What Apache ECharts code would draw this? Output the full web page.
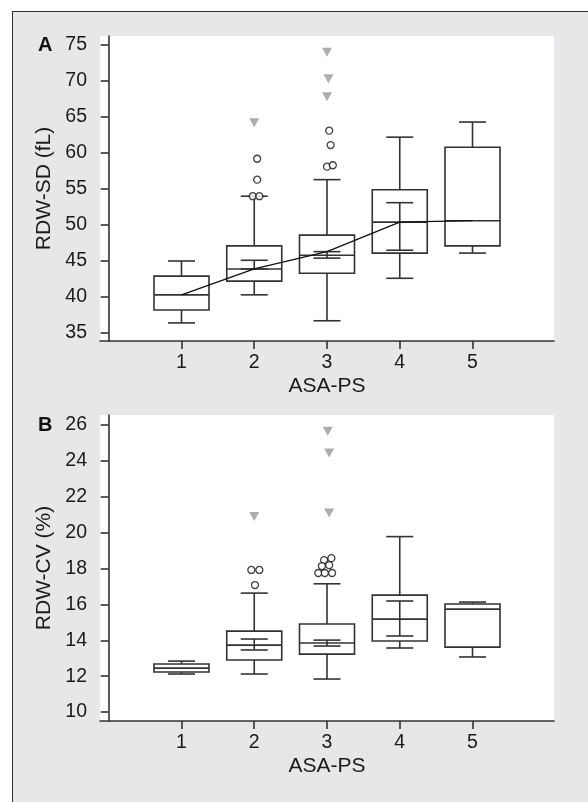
<!DOCTYPE html>
<html>
<head>
<meta charset="utf-8">
<script src="https://cdn.jsdelivr.net/npm/echarts@6/dist/echarts.min.js"></script>
<style>
  html, body { margin: 0; padding: 0; background: #fff; }
  #frame { position: absolute; left: 12px; top: 11px; width: 600px; height: 820px;
           background: #e6e7e8; border-top: 1.5px solid #333; border-left: 1.5px solid #333; box-sizing: border-box; }
  #chart { position: absolute; left: 0; top: 0; width: 588px; height: 802px; }
</style>
</head>
<body>
<div id="frame"></div>
<div id="chart"></div>
<script>
// ---- Data ----
const groups = [1, 2, 3, 4, 5];
const xTicks = [1, 2, 3, 4, 5];
const sdTicks = [35, 40, 45, 50, 55, 60, 65, 70, 75];
const cvTicks = [10, 12, 14, 16, 18, 20, 22, 24, 26];

// Panel A: RDW-SD (fL)
const sdLow    = [36.4, 40.3, 36.7, 42.6, 46.1];
const sdQ1     = [38.2, 42.2, 43.3, 46.1, 47.1];
const sdMedian = [40.3, 43.9, 45.8, 50.4, 50.6];
const sdQ3     = [42.9, 47.1, 48.6, 54.9, 60.8];
const sdHigh   = [45.0, 54.0, 56.3, 62.2, 64.3];
const sdCiLow  = [null, 43.9, 45.4, 46.5, null];
const sdCiHigh = [null, 45.1, 46.3, 53.1, null];
const sdTrend  = [40.3, 43.9, 46.3, 50.4, 50.6];
const sdCircles = [[2.04, 59.2], [2.04, 56.3], [1.98, 54.0], [2.07, 54.0],
                   [3.03, 63.1], [3.05, 61.1], [3.00, 58.1], [3.08, 58.3]];
const sdTriangles = [[2.0, 64.2], [3.0, 74.0], [3.02, 70.3], [3.0, 67.8]];

// Panel B: RDW-CV (%)
const cvLow    = [12.12, 12.12, 11.84, 13.57, 13.07];
const cvQ1     = [12.23, 12.90, 13.23, 13.96, 13.62];
const cvMedian = [12.45, 13.73, 13.85, 15.18, 15.74];
const cvQ3     = [12.68, 14.51, 14.91, 16.52, 16.02];
const cvHigh   = [12.84, 16.63, 17.15, 19.78, 16.13];
const cvCiLow  = [null, 13.46, 13.68, 14.24, null];
const cvCiHigh = [null, 14.07, 14.01, 16.19, null];
const cvCircles = [[2.01, 17.08], [1.96, 17.92], [2.07, 17.92],
                   [2.96, 18.47], [3.06, 18.58], [2.93, 18.14], [3.03, 18.19],
                   [2.88, 17.75], [2.97, 17.75], [3.07, 17.75]];
const cvTriangles = [[2.0, 20.9], [3.01, 25.66], [3.03, 24.44], [3.03, 21.09]];

// ---- Build rows ----
function rows(low, q1, med, q3, high, ciL, ciH) {
  return groups.map((g, i) => [g, low[i], q1[i], med[i], q3[i], high[i],
    ciL[i] == null ? '-' : ciL[i], ciH[i] == null ? '-' : ciH[i]]);
}
const sdRows = rows(sdLow, sdQ1, sdMedian, sdQ3, sdHigh, sdCiLow, sdCiHigh);
const cvRows = rows(cvLow, cvQ1, cvMedian, cvQ3, cvHigh, cvCiLow, cvCiHigh);

const INK = '#333';
const LW = 1.6;
const BOX_HALF = 27.5;
const CAP_HALF = 13.5;

function renderBox(params, api) {
  const x = api.value(0);
  const v = [1, 2, 3, 4, 5, 6, 7].map(i => api.value(i));
  const P = val => api.coord([x, val]);
  const pLow = P(v[0]), pQ1 = P(v[1]), pMed = P(v[2]), pQ3 = P(v[3]), pHigh = P(v[4]);
  const cx = pMed[0];
  const st = { stroke: INK, lineWidth: LW, fill: null };
  const line = (x1, y1, x2, y2) => ({ type: 'line', shape: { x1, y1, x2, y2 }, style: st });
  const ch = [
    line(cx, pLow[1], cx, pQ1[1]),
    line(cx, pQ3[1], cx, pHigh[1]),
    line(cx - CAP_HALF, pLow[1], cx + CAP_HALF, pLow[1]),
    line(cx - CAP_HALF, pHigh[1], cx + CAP_HALF, pHigh[1]),
    { type: 'rect', shape: { x: cx - BOX_HALF, y: pQ3[1], width: 2 * BOX_HALF, height: pQ1[1] - pQ3[1] },
      style: { stroke: INK, lineWidth: LW, fill: 'rgba(0,0,0,0)' } },
    line(cx - BOX_HALF, pMed[1], cx + BOX_HALF, pMed[1])
  ];
  if (!isNaN(v[5]) && !isNaN(v[6])) {
    const a = P(v[5]), b = P(v[6]);
    ch.push(line(cx, a[1], cx, b[1]));
    ch.push(line(cx - CAP_HALF, a[1], cx + CAP_HALF, a[1]));
    ch.push(line(cx - CAP_HALF, b[1], cx + CAP_HALF, b[1]));
  }
  return { type: 'group', children: ch };
}

const FONT = 'Liberation Sans, Arial, Helvetica, sans-serif';
const labelStyle = { color: '#1a1a1a', fontSize: 19.5, fontFamily: FONT };
const nameStyle = { color: '#1a1a1a', fontSize: 21, fontFamily: FONT };

function xAxis(gi) {
  return {
    type: 'value', gridIndex: gi, min: -0.12, max: 6.12,
    name: 'ASA-PS', nameLocation: 'middle', nameGap: 35, nameTextStyle: nameStyle,
    axisLine: { show: true, lineStyle: { color: INK, width: LW } },
    axisTick: { show: true, length: 8, customValues: xTicks, lineStyle: { color: INK, width: LW } },
    axisLabel: { show: true, margin: 12, customValues: xTicks, ...labelStyle },
    splitLine: { show: false }
  };
}
function yAxis(gi, min, max, ticks, name) {
  return {
    type: 'value', gridIndex: gi, min, max,
    name, nameLocation: 'middle', nameGap: 45, nameTextStyle: nameStyle,
    axisLine: { show: true, lineStyle: { color: INK, width: LW } },
    axisTick: { show: true, length: 8, customValues: ticks, lineStyle: { color: INK, width: LW } },
    axisLabel: { show: true, margin: 13, customValues: ticks, ...labelStyle },
    splitLine: { show: false }
  };
}

const circleStyle = { color: '#fff', borderColor: '#111', borderWidth: 1.3 };
const triStyle = { color: '#999' };

const option = {
  backgroundColor: 'transparent',
  animation: false,
  grid: [
    { left: 100, top: 36, width: 454, height: 305, show: true, backgroundColor: '#fff', borderWidth: 0 },
    { left: 100, top: 415, width: 454, height: 306, show: true, backgroundColor: '#fff', borderWidth: 0 }
  ],
  xAxis: [xAxis(0), xAxis(1)],
  yAxis: [
    yAxis(0, 33.89, 76.25, sdTicks, 'RDW-SD (fL)'),
    yAxis(1, 9.5, 26.56, cvTicks, 'RDW-CV (%)')
  ],
  graphic: [
    { type: 'text', left: 38, top: 35, style: { text: 'A', font: 'bold 20px ' + FONT, fill: '#111' } },
    { type: 'text', left: 38, top: 415, style: { text: 'B', font: 'bold 20px ' + FONT, fill: '#111' } }
  ],
  series: [
    { type: 'custom', xAxisIndex: 0, yAxisIndex: 0, renderItem: renderBox, data: sdRows,
      encode: { x: 0, y: [1, 2, 3, 4, 5] }, z: 2 },
    { type: 'line', xAxisIndex: 0, yAxisIndex: 0, data: groups.map((g, i) => [g, sdTrend[i]]),
      symbol: 'none', lineStyle: { color: '#111', width: 1.3 }, z: 3 },
    { type: 'scatter', xAxisIndex: 0, yAxisIndex: 0, data: sdCircles, symbol: 'circle', symbolSize: 7,
      itemStyle: circleStyle, z: 4 },
    { type: 'scatter', xAxisIndex: 0, yAxisIndex: 0, data: sdTriangles, symbol: 'triangle', symbolRotate: 180,
      symbolSize: [10, 9], itemStyle: triStyle, z: 4 },
    { type: 'custom', xAxisIndex: 1, yAxisIndex: 1, renderItem: renderBox, data: cvRows,
      encode: { x: 0, y: [1, 2, 3, 4, 5] }, z: 2 },
    { type: 'scatter', xAxisIndex: 1, yAxisIndex: 1, data: cvCircles, symbol: 'circle', symbolSize: 7,
      itemStyle: circleStyle, z: 4 },
    { type: 'scatter', xAxisIndex: 1, yAxisIndex: 1, data: cvTriangles, symbol: 'triangle', symbolRotate: 180,
      symbolSize: [10, 9], itemStyle: triStyle, z: 4 }
  ]
};

const chart = echarts.init(document.getElementById('chart'), null, { renderer: 'canvas' });
chart.setOption(option);
</script>
</body>
</html>
